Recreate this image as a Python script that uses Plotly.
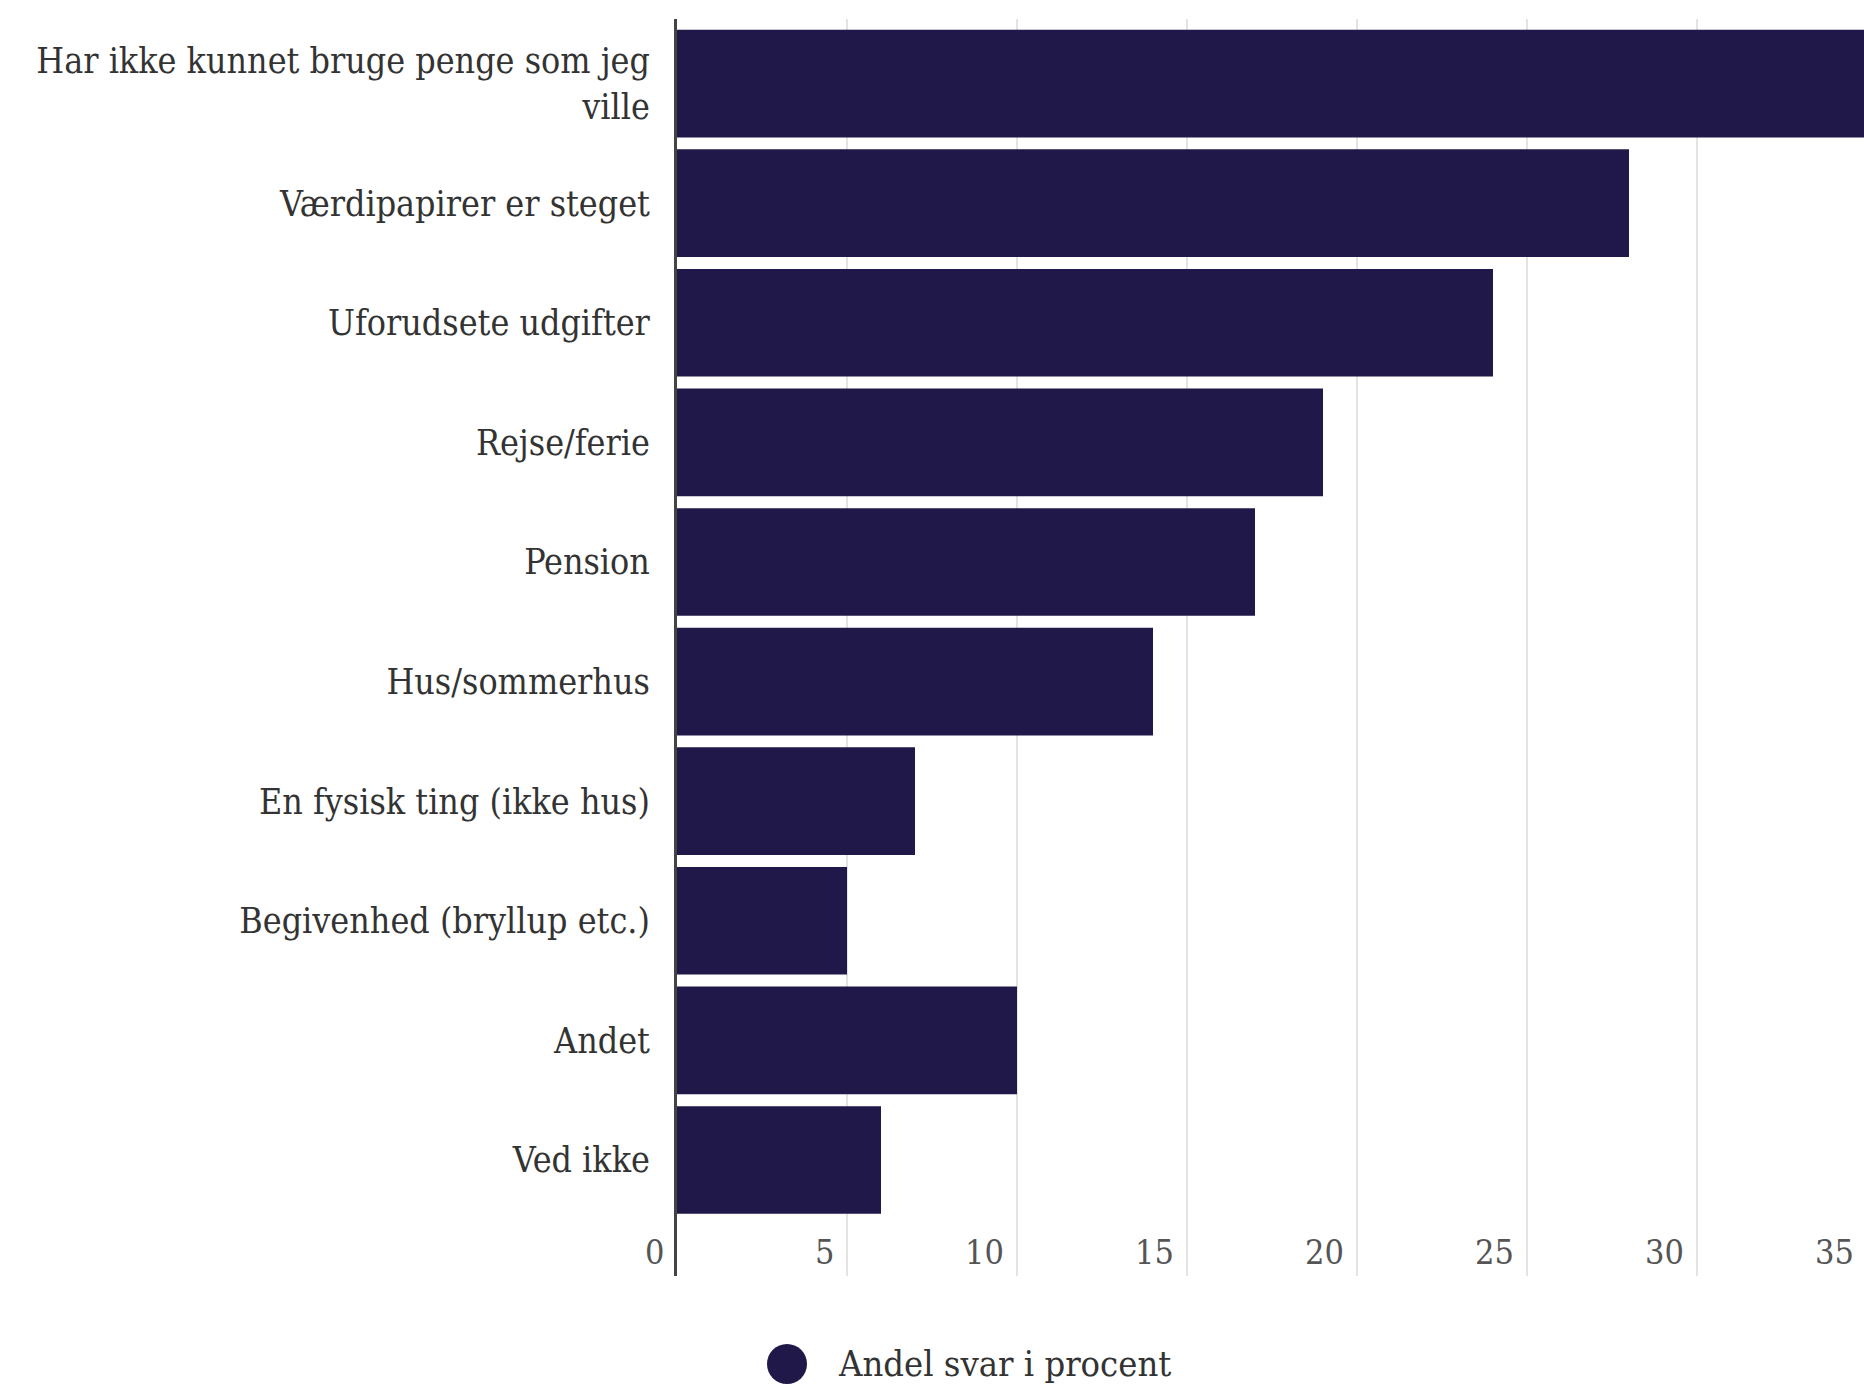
import plotly.graph_objects as go

categories = [
    "Har ikke kunnet bruge penge som jeg<br>ville",
    "Værdipapirer er steget",
    "Uforudsete udgifter",
    "Rejse/ferie",
    "Pension",
    "Hus/sommerhus",
    "En fysisk ting (ikke hus)",
    "Begivenhed (bryllup etc.)",
    "Andet",
    "Ved ikke",
]
values = [38, 28, 24, 19, 17, 14, 7, 5, 10, 6]
tick_values = [0, 5, 10, 15, 20, 25, 30, 35]
tick_labels = ["0", "5", "10", "15", "20", "25", "30", "35"]
series_name = "Andel svar i procent"

BAR_COLOR = "#201848"
FONT = "DejaVu Serif Condensed, DejaVu Serif, Liberation Serif, serif"

W, H = 1867, 1384
ML, MR, MT, MB = 677, 0, 19, 108
PW = W - ML - MR
PH = H - MT - MB

fig = go.Figure()
fig.add_trace(go.Bar(
    x=values, y=categories, orientation="h",
    marker=dict(color=BAR_COLOR, line=dict(width=0)),
    showlegend=False, name=series_name,
))

# x tick labels drawn inside the plot, right-aligned to each gridline
for tv, tl in zip(tick_values, tick_labels):
    fig.add_annotation(
        x=tv, xref="x", y=0, yref="paper",
        text=tl, showarrow=False, xanchor="right", yanchor="bottom",
        xshift=-11, yshift=2,
        font=dict(family=FONT, size=34, color="#555555"),
    )

# legend (large circle marker + label)
leg_y_px = 1364
leg_y = (MT + PH - leg_y_px) / PH
circ_x = (787 - ML) / PW
fig.add_shape(
    type="circle", xref="paper", yref="paper",
    xsizemode="pixel", ysizemode="pixel",
    xanchor=circ_x, yanchor=leg_y,
    x0=-20, x1=20, y0=-20, y1=20,
    fillcolor=BAR_COLOR, line=dict(width=0),
)
fig.add_annotation(
    x=(836 - ML) / PW, xref="paper", y=leg_y, yref="paper",
    text=series_name, showarrow=False, xanchor="left", yanchor="middle",
    font=dict(family=FONT, size=36, color="#333333"),
)

fig.update_layout(
    width=W, height=H,
    margin=dict(l=ML, r=MR, t=MT, b=MB, autoexpand=False),
    paper_bgcolor="white", plot_bgcolor="white",
    bargap=0.1,
    font=dict(family=FONT, color="#333333", size=35),
    showlegend=False,
)
fig.update_xaxes(
    range=[0, 35], tickvals=tick_values, ticktext=tick_labels,
    showgrid=True, gridcolor="#e3e3e3", gridwidth=2,
    zeroline=False, showline=False,
    showticklabels=False, ticks="", automargin=False,
)
fig.update_yaxes(
    type="category", categoryorder="array", categoryarray=categories,
    range=[9.97, -0.54],
    showline=True, linecolor="#444444", linewidth=3,
    showgrid=False, ticks="", ticklabelstandoff=17, automargin=False,
    tickfont=dict(size=35.5, color="#333333"),
)
fig.write_html(
    "out.html",
    config={"displayModeBar": False},
    post_script="document.body.style.margin='0';document.body.style.overflow='hidden';",
)
